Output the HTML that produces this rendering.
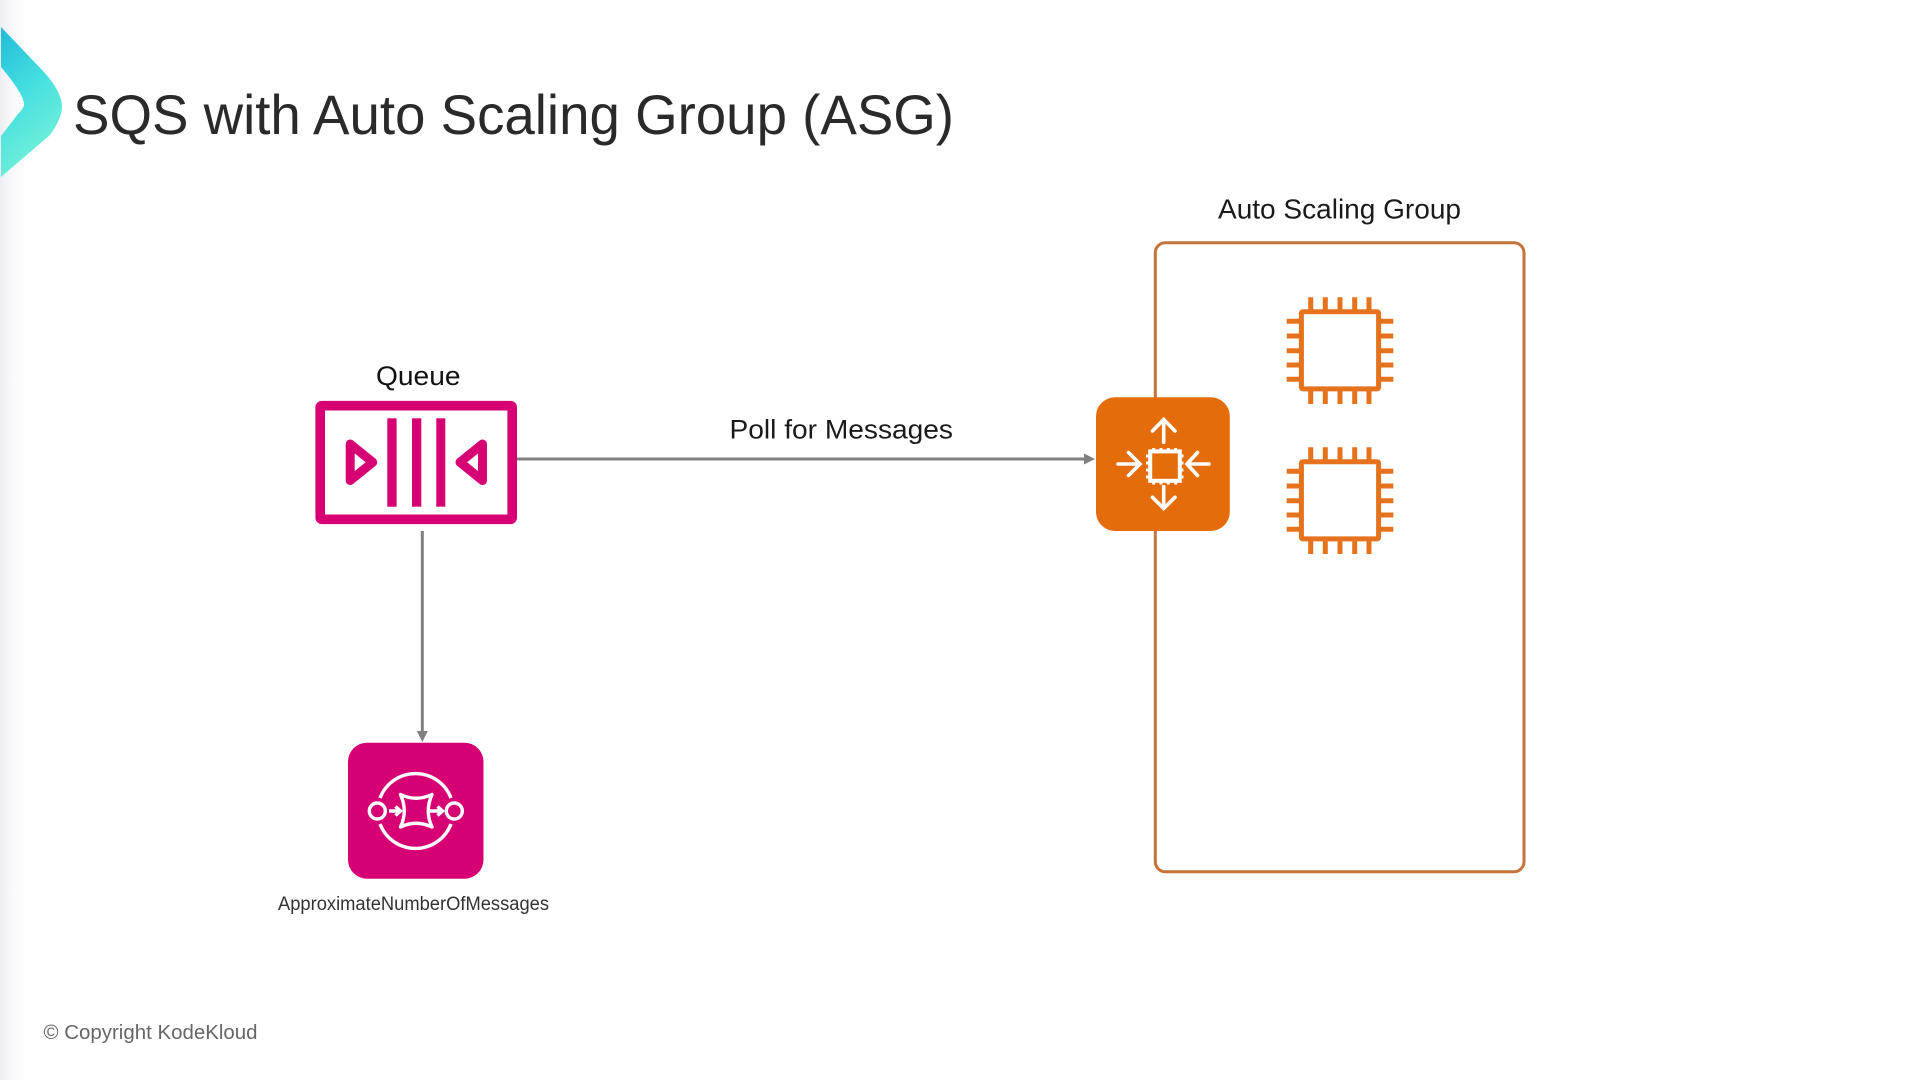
<!DOCTYPE html>
<html lang="en">
<head>
<meta charset="utf-8">
<title>SQS with Auto Scaling Group (ASG)</title>
<style>
html,body{margin:0;padding:0;background:#fff;width:1920px;height:1080px;overflow:hidden}
svg{display:block}
text{font-family:"Liberation Sans",sans-serif}
</style>
</head>
<body>
<svg width="1920" height="1080" viewBox="0 0 1920 1080" xmlns="http://www.w3.org/2000/svg">
<defs>
<linearGradient id="side" x1="0" x2="1" y1="0" y2="0">
<stop offset="0" stop-color="#eeedf5"/><stop offset="0.4" stop-color="#f8f8fb"/><stop offset="1" stop-color="#ffffff"/>
</linearGradient>
<linearGradient id="chev" x1="0" x2="0.35" y1="0" y2="1">
<stop offset="0" stop-color="#1fbcd9"/><stop offset="0.5" stop-color="#45dfe0"/><stop offset="1" stop-color="#74f0d8"/>
</linearGradient>
<g id="chip" fill="none" stroke="#e5721c" stroke-width="5">
<rect x="1301.4" y="311.7" width="77.2" height="77.2" rx="1.5"/>
<path d="M1310.7 297.3V310M1325.3 297.3V310M1340 297.3V310M1354.7 297.3V310M1369 297.3V310"/>
<path d="M1310.7 391V404M1325.3 391V404M1340 391V404M1354.7 391V404M1369 391V404"/>
<path d="M1286.7 321.3H1300M1286.7 336H1300M1286.7 350.7H1300M1286.7 365H1300M1286.7 379.3H1300"/>
<path d="M1380 321.3H1393.3M1380 336H1393.3M1380 350.7H1393.3M1380 365H1393.3M1380 379.3H1393.3"/>
</g>
</defs>

<rect x="0" y="0" width="1920" height="1080" fill="#ffffff"/>
<rect x="0" y="0" width="26" height="1080" fill="url(#side)"/>

<path d="M1 27 L44 72 Q62 92 62 107 Q62 118 50 135 L1 177 L1 136 L18 114 Q25 107 24 103 Q22 92 1 67 Z" fill="url(#chev)"/>

<text x="73" y="134" font-size="56" fill="#2a2a2a" textLength="881" lengthAdjust="spacingAndGlyphs">SQS with Auto Scaling Group (ASG)</text>

<text x="1218" y="218.3" font-size="28" fill="#1a1a1a" textLength="243" lengthAdjust="spacingAndGlyphs">Auto Scaling Group</text>
<rect x="1155.3" y="242.7" width="368.7" height="629" rx="10" fill="none" stroke="#c4733a" stroke-width="3"/>

<use href="#chip"/>
<use href="#chip" y="150"/>

<text x="376" y="385" font-size="27" fill="#111111" textLength="84.5" lengthAdjust="spacingAndGlyphs">Queue</text>
<rect x="320.2" y="405.7" width="192" height="113.6" rx="1.5" fill="#fff" stroke="#d60074" stroke-width="9.6"/>
<g fill="#d60074">
<rect x="387.3" y="418.3" width="9.3" height="88.4"/>
<rect x="412" y="418.3" width="9.3" height="88.4"/>
<rect x="436.3" y="418.3" width="9" height="88.4"/>
</g>
<g fill="none" stroke="#d60074" stroke-width="9" stroke-linejoin="round">
<path d="M350.2 444 L372.8 462.3 L350.2 480.5 Z"/>
<path d="M482.5 444 L460 462.3 L482.5 480.5 Z"/>
</g>

<line x1="517" y1="459" x2="1086" y2="459" stroke="#808080" stroke-width="3"/>
<path d="M1084 453.5 L1095 459 L1084 464.5 Z" fill="#808080"/>
<text x="729.5" y="438.3" font-size="27" fill="#1a1a1a" textLength="223.5" lengthAdjust="spacingAndGlyphs">Poll for Messages</text>

<line x1="422.3" y1="531" x2="422.3" y2="733" stroke="#808080" stroke-width="3"/>
<path d="M416.8 731 L427.8 731 L422.3 742 Z" fill="#808080"/>

<rect x="348" y="742.7" width="135.5" height="136" rx="19" fill="#d60074"/>
<g fill="none" stroke="#ffffff" stroke-width="3.4">
<circle cx="377.3" cy="811" r="8"/>
<circle cx="454.3" cy="811" r="8"/>
<path d="M380 798 A38 38 0 0 1 451 798"/>
<path d="M380 824 A38 38 0 0 0 451 824"/>
<path d="M400.5 794.5 Q416 802 432 794.5 Q424.5 811 432 827 Q416 819.5 400.5 827 Q408 811 400.5 794.5 Z" stroke-linejoin="round"/>
<path d="M389 811H400M395.5 806.5L400.5 811L395.5 815.5"/>
<path d="M430 811H442.5M437.5 806.5L442.5 811L437.5 815.5"/>
</g>
<text x="278" y="910" font-size="19" fill="#333333" textLength="271" lengthAdjust="spacingAndGlyphs">ApproximateNumberOfMessages</text>

<rect x="1096" y="397.3" width="133.8" height="133.7" rx="19" fill="#e56c0a"/>
<g fill="none" stroke="#ffffff" stroke-width="3.6" stroke-linecap="round" stroke-linejoin="miter">
<path d="M1163.7 442.3V419.5M1152.5 431L1163.7 419.5L1175 431"/>
<path d="M1163.7 486.7V508.5M1152.5 497.3L1163.7 508.5L1175 497.3"/>
<path d="M1118 464H1140M1128.5 452.5L1140 464L1128.5 475.5"/>
<path d="M1209 464H1187M1197.5 452.5L1187 464L1197.5 475.5"/>
</g>
<g fill="none" stroke="#ffffff">
<rect x="1150.2" y="451.4" width="29.6" height="29.4" stroke-width="4"/>
<path stroke-width="3" d="M1153.7 448V451M1161 448V451M1168.3 448V451M1175.7 448V451M1153.7 481V484.5M1161 481V484.5M1168.3 481V484.5M1175.7 481V484.5M1146 456H1149M1146 463H1149M1146 470H1149M1146 477H1149M1180 456H1183.5M1180 463H1183.5M1180 470H1183.5M1180 477H1183.5"/>
</g>

<text x="43.5" y="1039" font-size="20" fill="#666666" textLength="214" lengthAdjust="spacingAndGlyphs">© Copyright KodeKloud</text>
</svg>
</body>
</html>
